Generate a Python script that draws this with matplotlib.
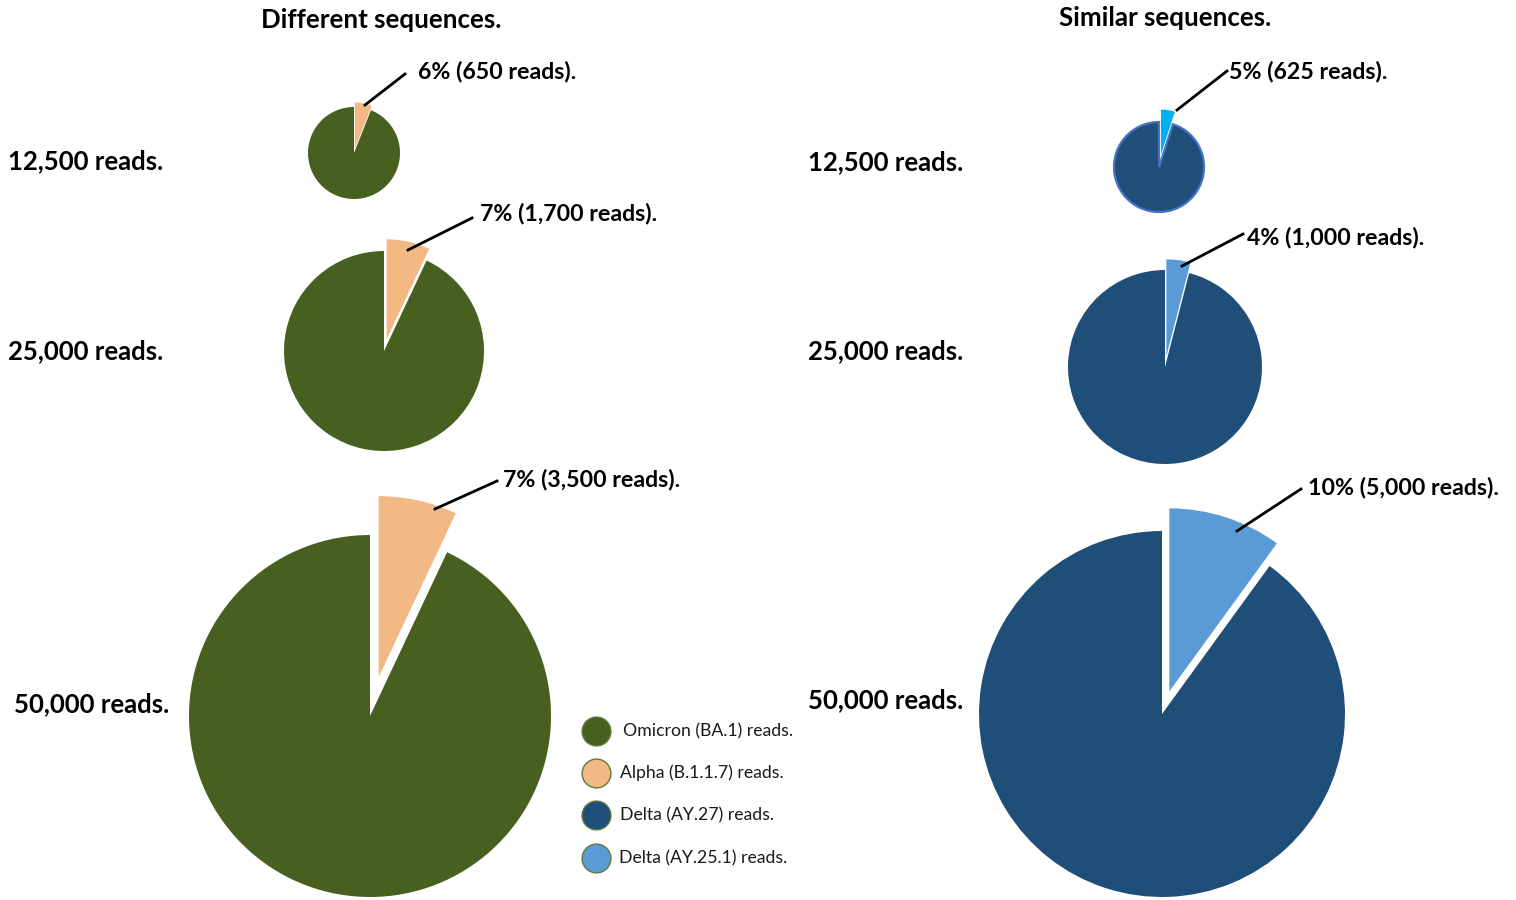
import matplotlib.pyplot as plt
from matplotlib.lines import Line2D

plt.rcParams['font.family'] = ['Lato', 'DejaVu Sans']

W, H = 1516, 900

# read depth per row and the minority share in each pie
depths = ["12,500 reads.", "25,000 reads.", "50,000 reads."]
diff_pct = [6, 7, 7]
diff_reads = ["650", "1,700", "3,500"]
sim_pct = [5, 4, 10]
sim_reads = ["625", "1,000", "5,000"]

legend_labels = ["Omicron (BA.1) reads.", "Alpha (B.1.1.7) reads.",
                 "Delta (AY.27) reads.", "Delta (AY.25.1) reads."]

GREEN = "#47601F"
PEACH = "#F2B984"
NAVY = "#1F4E79"
LIGHT = "#5B9BD5"
CYAN = "#00B0F0"
legend_colors = [GREEN, PEACH, NAVY, LIGHT]

# layout in pixels from the top-left corner; ex is the explode offset as a fraction of r
diff_pies = [dict(c=(354, 153), r=46, ex=0.10), dict(c=(384, 351), r=100, ex=0.12),
             dict(c=(370, 716), r=181, ex=0.22)]
sim_pies = [dict(c=(1159, 167), r=45, ex=0.28), dict(c=(1165, 367), r=97, ex=0.11),
            dict(c=(1162, 714), r=183, ex=0.13)]
diff_leaders = [((365, 105), (405, 74)), ((408, 250), (472, 218)), ((435, 509), (497, 481))]
sim_leaders = [((1177, 110), (1227, 71)), ((1182, 266), (1243, 234)), ((1237, 531), (1301, 489))]
diff_text_xy = [(418, 72), (480, 214), (503, 480)]
sim_text_xy = [(1229, 71), (1247, 238), (1308, 488)]
diff_row_xy = [(8, 161), (8, 351), (14, 704)]
sim_row_xy = [(808, 162), (808, 351), (808, 700)]

fig = plt.figure(figsize=(W / 100, H / 100), dpi=100)
ax = fig.add_axes([0, 0, 1, 1])


def fy(y):
    return H - y


def draw_pie(pct, geo, minor_color, major_color, major_edge=None):
    cx, cy = geo["c"]
    r = geo["r"]
    wedges, _ = ax.pie([pct, 100 - pct], colors=[minor_color, major_color],
                       startangle=90, counterclock=False,
                       explode=[geo["ex"] * r, 0], radius=r,
                       center=(cx, fy(cy)))
    for w in wedges:
        w.set_linewidth(0)
    if major_edge is not None:
        wedges[1].set_edgecolor(major_edge)
        wedges[1].set_linewidth(1.6)


for i in range(3):
    draw_pie(diff_pct[i], diff_pies[i], PEACH, GREEN)
    draw_pie(sim_pct[i], sim_pies[i], CYAN if i == 0 else LIGHT, NAVY,
             major_edge="#4472C4" if i == 0 else None)

for leaders, texts, pcts, reads in [(diff_leaders, diff_text_xy, diff_pct, diff_reads),
                                    (sim_leaders, sim_text_xy, sim_pct, sim_reads)]:
    for (p0, p1), (tx, ty), p, r in zip(leaders, texts, pcts, reads):
        ax.add_line(Line2D([p0[0], p1[0]], [fy(p0[1]), fy(p1[1])],
                           color="black", lw=2.0))
        ax.text(tx, fy(ty), f"{p}% ({r} reads).", fontsize=16.7,
                fontweight="bold", ha="left", va="center")

for (x, y), lab in zip(diff_row_xy + sim_row_xy, depths + depths):
    ax.text(x, fy(y), lab, fontsize=18.5, fontweight="bold", ha="left", va="center")

ax.text(381, fy(20), "Different sequences.", fontsize=18.6, fontweight="bold",
        ha="center", va="center")
ax.text(1165, fy(18), "Similar sequences.", fontsize=18.6, fontweight="bold",
        ha="center", va="center")

# legend drawn as circles with labels
legend_y = [731, 773, 815, 858]
legend_tx = [623, 620, 620, 619]
for y, tx, col, lab in zip(legend_y, legend_tx, legend_colors, legend_labels):
    ax.scatter([596], [fy(y)], s=430, color=col, edgecolors="#5E7A3E",
               linewidths=1.0, zorder=3)
    ax.text(tx, fy(y), lab, fontsize=12.7, ha="left", va="center", color="#1a1a1a")

ax.set_xlim(0, W)
ax.set_ylim(0, H)
ax.set_aspect("equal")
ax.axis("off")

fig.savefig("out.png", dpi=100)
